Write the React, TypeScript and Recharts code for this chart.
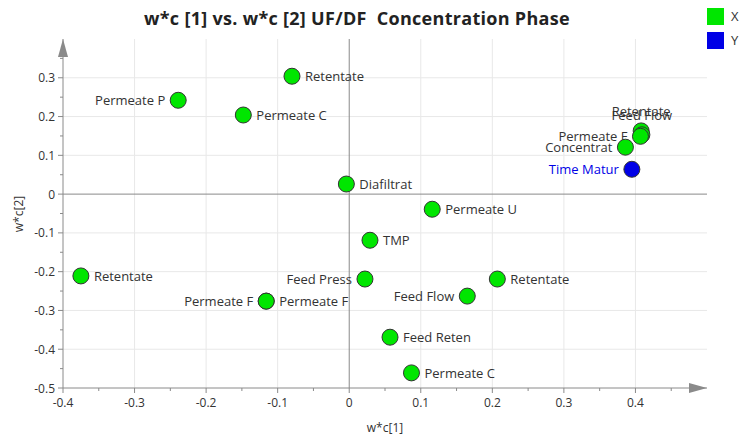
import {
  ScatterChart,
  Scatter,
  XAxis,
  YAxis,
  ReferenceLine,
} from "recharts"

// loadings w*c[1] / w*c[2], X variables
const xNames = [
  "Retentate", "Permeate P", "Retentate", "Permeate C", "Diafiltrat", "Permeate U",
  "TMP", "Feed Press", "Retentate", "Feed Flow", "Permeate F", "Permeate F",
  "Feed Reten", "Permeate C", "Retentate", "Feed Flow", "Permeate F", "Concentrat",
]
const xW1 = [
  -0.375, -0.239, -0.08, -0.148, -0.004, 0.116,
  0.029, 0.022, 0.207, 0.165, -0.116, -0.116,
  0.057, 0.087, 0.408, 0.409, 0.407, 0.386,
]
const xW2 = [
  -0.211, 0.242, 0.304, 0.204, 0.026, -0.039,
  -0.119, -0.219, -0.219, -0.263, -0.276, -0.276,
  -0.369, -0.461, 0.163, 0.153, 0.149, 0.121,
]
const xSide = [
  "right", "left", "right", "right", "right", "right",
  "right", "left", "right", "left", "left", "right",
  "right", "right", "top", "top", "left", "left",
]

// Y variable
const yNames = ["Time Matur"]
const yW1 = [0.395]
const yW2 = [0.064]
const ySide = ["left"]

const xTicks = [-0.4, -0.3, -0.2, -0.1, 0, 0.1, 0.2, 0.3, 0.4]
const yTicks = [-0.5, -0.4, -0.3, -0.2, -0.1, 0, 0.1, 0.2, 0.3]
const xMinor = [-0.35, -0.25, -0.15, -0.05, 0.05, 0.15, 0.25, 0.35, 0.45]
const yMinor = [-0.45, -0.35, -0.25, -0.15, -0.05, 0.05, 0.15, 0.25, 0.35]

const xData = xNames.map((name, i) => ({ name, w1: xW1[i], w2: xW2[i], side: xSide[i] }))
const yData = yNames.map((name, i) => ({ name, w1: yW1[i], w2: yW2[i], side: ySide[i] }))

const GRID = "#e8e8e8"
const AXIS = "#8a8a8a"
const FONT = "'Open Sans', sans-serif"

function makeShape(fill: string, textColor: string) {
  return (props: any) => {
    const { cx, cy, payload } = props
    let label = null
    if (payload.side === "left") {
      label = <text x={cx - 13} y={cy} textAnchor="end" dominantBaseline="central" fontSize={13} fill={textColor} fontFamily={FONT}>{payload.name}</text>
    } else if (payload.side === "right") {
      label = <text x={cx + 13} y={cy} textAnchor="start" dominantBaseline="central" fontSize={13} fill={textColor} fontFamily={FONT}>{payload.name}</text>
    } else {
      label = <text x={cx} y={cy - 20} textAnchor="middle" dominantBaseline="central" fontSize={13} fill={textColor} fontFamily={FONT}>{payload.name}</text>
    }
    return (
      <g>
        <circle cx={cx} cy={cy} r={8} fill={fill} stroke="#333" strokeWidth={1} />
        {label}
      </g>
    )
  }
}

function XTick(props: any) {
  const { x, y, payload } = props
  const major = xTicks.includes(payload.value)
  return (
    <g>
      <line x1={x} y1={y - 8} x2={x} y2={y - 8 + (major ? 5 : 3)} stroke={AXIS} />
      {major && (
        <text x={x} y={y + 11} textAnchor="middle" fontSize={12} fill="#333" fontFamily={FONT}>
          {payload.value}
        </text>
      )}
    </g>
  )
}

function YTick(props: any) {
  const { x, y, payload } = props
  const major = yTicks.includes(payload.value)
  return (
    <g>
      <line x1={x + 8} y1={y} x2={x + 8 - (major ? 5 : 3)} y2={y} stroke={AXIS} />
      {major && (
        <text x={x} y={y} textAnchor="end" dominantBaseline="central" fontSize={12} fill="#333" fontFamily={FONT}>
          {payload.value}
        </text>
      )}
    </g>
  )
}

function LegendBox() {
  const items = [
    { label: "X", color: "#00e600" },
    { label: "Y", color: "#0000e6" },
  ]
  return (
    <div style={{ position: "absolute", left: 707, top: 4, fontFamily: FONT, fontSize: 13, color: "#333" }}>
      {items.map((it) => (
        <div key={it.label} style={{ display: "flex", alignItems: "center", height: 24 }}>
          <span style={{ width: 17, height: 17, background: it.color, display: "inline-block", marginRight: 7 }} />
          {it.label}
        </div>
      ))}
    </div>
  )
}

const allX = [...xTicks, ...xMinor].sort((a, b) => a - b)
const allY = [...yTicks, ...yMinor].sort((a, b) => a - b)

export default function App() {
  return (
    <div style={{ position: "fixed", left: 0, top: 0, width: 740, height: 437, background: "#fff" }}>
      <div style={{ position: "absolute", left: 0, width: 714, top: 6, textAlign: "center", fontFamily: FONT, fontWeight: 700, fontSize: 18, letterSpacing: 0.3, color: "#222" }}>
        w*c [1] vs. w*c [2] UF/DF&nbsp; Concentration Phase
      </div>
      <div style={{ position: "absolute", left: 0, width: 770, top: 419, textAlign: "center", fontFamily: FONT, fontSize: 12, color: "#333" }}>
        w*c[1]
      </div>
      <div style={{ position: "absolute", left: 18, top: 214, transform: "translate(-50%, -50%) rotate(-90deg)", fontFamily: FONT, fontSize: 12, color: "#333", whiteSpace: "nowrap" }}>
        w*c[2]
      </div>
      <LegendBox />
      <ScatterChart width={740} height={437} margin={{ top: 39, right: 33, bottom: 19, left: 13 }} style={{ position: "absolute", left: 0, top: 0 }}>
        {xTicks.filter((v) => v !== 0 && v !== -0.4).map((v) => (
          <ReferenceLine key={"gx" + v} x={v} stroke={GRID} />
        ))}
        {yTicks.filter((v) => v !== 0 && v !== -0.5).map((v) => (
          <ReferenceLine key={"gy" + v} y={v} stroke={GRID} />
        ))}
        <ReferenceLine x={0} stroke={AXIS} />
        <ReferenceLine y={0} stroke={AXIS} />
        <ReferenceLine
          y={-0.5}
          stroke="none"
          label={{
            content: (p: any) => {
              const vb = p.viewBox
              const tx = vb.x + vb.width
              return <polygon points={`${tx},${vb.y} ${tx - 18},${vb.y - 5} ${tx - 18},${vb.y + 5}`} fill={AXIS} />
            },
          }}
        />
        <ReferenceLine
          x={-0.4}
          stroke="none"
          label={{
            content: (p: any) => {
              const vb = p.viewBox
              return <polygon points={`${vb.x},${vb.y} ${vb.x - 5},${vb.y + 18} ${vb.x + 5},${vb.y + 18}`} fill={AXIS} />
            },
          }}
        />
        <XAxis
          type="number"
          dataKey="w1"
          domain={[-0.4, 0.5]}
          ticks={allX}
          interval={0}
          height={30}
          stroke={AXIS}
          tickLine={false}
          tick={<XTick />}
        />
        <YAxis
          type="number"
          dataKey="w2"
          domain={[-0.5, 0.4]}
          ticks={allY}
          interval={0}
          width={50}
          stroke={AXIS}
          tickLine={false}
          tick={<YTick />}
        />
        <Scatter name="X" data={xData} shape={makeShape("#00e600", "#333")} isAnimationActive={false} />
        <Scatter name="Y" data={yData} shape={makeShape("#0000e6", "#0000e6")} isAnimationActive={false} />
      </ScatterChart>
    </div>
  )
}
